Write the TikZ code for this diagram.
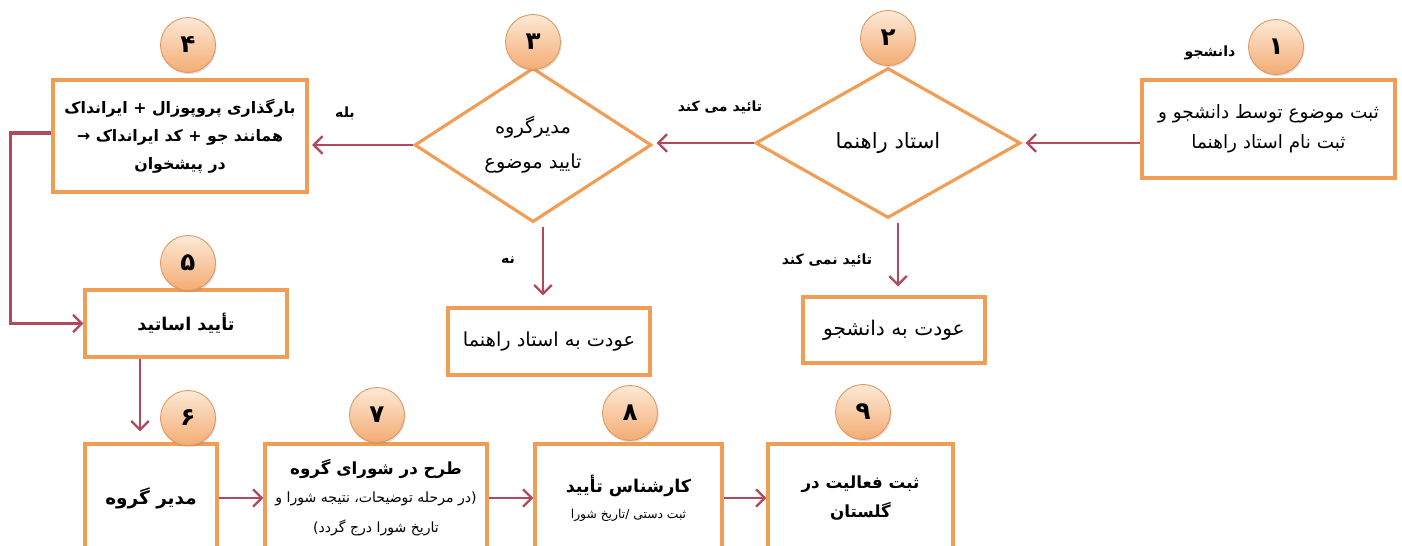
\documentclass[tikz,border=0pt]{standalone}
\usepackage{fontspec}
\setmainfont{DejaVu Sans}
\newfontfamily\fa[Script=Arabic]{DejaVu Sans}
\TeXXeTstate=1
\usetikzlibrary{shapes.geometric,arrows.meta,shadows}
\definecolor{boxc}{RGB}{240,158,85}
\definecolor{arrc}{RGB}{178,72,92}
\definecolor{circin}{RGB}{253,233,215}
\definecolor{circout}{RGB}{243,172,115}
\definecolor{circedge}{RGB}{226,150,95}
\newcommand{\rl}[1]{\beginR #1\endR}
\begin{document}
\begin{tikzpicture}[x=0.02cm,y=-0.02cm,
  box/.style={draw=boxc, line width=1.8pt, fill=white, rectangle, inner sep=0pt, align=center,
    font=\fa\fontsize{11}{17}\selectfont},
  bbox/.style={box, font=\fa\bfseries\fontsize{10.5}{17}\selectfont},
  dia/.style={draw=boxc, line width=1.8pt, fill=white, diamond, inner sep=0pt, align=center,
    font=\fa\fontsize{11}{20}\selectfont},
  num/.style={circle, minimum size=1.1cm, draw=circedge, line width=0.5pt,
    top color=circin, bottom color=circout,
    drop shadow={opacity=0.25, shadow xshift=0.6pt, shadow yshift=-1pt},
    font=\fa\bfseries\fontsize{14}{14}\selectfont},
  lbl/.style={font=\fa\bfseries\fontsize{8}{10}\selectfont, inner sep=1pt},
  arr/.style={draw=arrc, line width=1.3pt, -{Straight Barb[length=5pt,width=10pt,line width=1.3pt]}},
  conn/.style={draw=arrc, line width=2pt, -{Straight Barb[length=5pt,width=10pt,line width=1.3pt]}}
]
\useasboundingbox (0,0) rectangle (1402,546);
\clip (0,0) rectangle (1402,546);
\fill[white] (0,0) rectangle (1402,546);

% boxes
\node[box, font=\fa\fontsize{10.5}{17}\selectfont, minimum width=5.06cm, minimum height=1.96cm] (b1) at (1268.5,129)
  {\rl{ثبت موضوع توسط دانشجو و}\\\rl{ثبت نام استاد راهنما}};
\node[dia, font=\fa\fontsize{12}{20}\selectfont, minimum width=5.3cm, minimum height=3.0cm] (d2) at (888,143) {\rl{استاد راهنما}};
\node[dia, minimum width=4.74cm, minimum height=3.04cm] (d3) at (533,145)
  {\rl{مدیرگروه}\\\rl{تایید موضوع}};
\node[box, font=\fa\bfseries\fontsize{9}{16}\selectfont, minimum width=5.08cm, minimum height=2.24cm] (b4) at (180,136)
  {\rl{بارگذاری پروپوزال + ایرانداک}\\\rl{همانند جو + کد ایرانداک →}\\\rl{در پیشخوان}};
\node[bbox, font=\fa\bfseries\fontsize{10}{17}\selectfont, minimum width=4.04cm, minimum height=1.34cm] (b5) at (186,323.5) {\rl{تأیید اساتید}};
\node[box, font=\fa\fontsize{11}{18}\selectfont, minimum width=4.04cm, minimum height=1.34cm] (r3) at (549,341.5) {\rl{عودت به استاد راهنما}};
\node[box, font=\fa\fontsize{11.5}{18}\selectfont, minimum width=3.64cm, minimum height=1.32cm] (r2) at (894,330) {\rl{عودت به دانشجو}};
\node[bbox, minimum width=2.64cm, minimum height=2.16cm] (b6) at (151,498) {\rl{مدیر گروه}};
\node[box, minimum width=4.44cm, minimum height=2.16cm] (b7) at (376,498)
  {{\bfseries\fontsize{9.5}{15}\selectfont\rl{طرح در شورای گروه}}\\[-1pt]
   {\fontsize{8}{13}\selectfont\rl{(در مرحله توضیحات، نتیجه شورا و}}\\
   {\fontsize{8}{14}\selectfont\rl{تاریخ شورا درج گردد)}}};
\node[box, minimum width=3.74cm, minimum height=2.16cm] (b8) at (628.5,498)
  {{\bfseries\fontsize{10}{15}\selectfont\rl{کارشناس تأیید}}\\[-2pt]
   {\fontsize{7}{10}\selectfont\rl{ثبت دستی /تاریخ شورا}}};
\node[box, font=\fa\bfseries\fontsize{9.5}{17}\selectfont, minimum width=3.7cm, minimum height=2.16cm] (b9) at (860.5,498)
  {\rl{ثبت فعالیت در}\\\rl{گلستان}};

% number circles
\node[num] (c1) at (1276,47) {\rl{۱}};
\node[num] (c2) at (888,38) {\rl{۲}};
\node[num] (c3) at (533,42) {\rl{۳}};
\node[num] (c4) at (188,45) {\rl{۴}};
\node[num] (c5) at (188,263) {\rl{۵}};
\node[num] (c6) at (188,418) {\rl{۶}};
\node[num] (c7) at (377,415) {\rl{۷}};
\node[num] (c8) at (630,413) {\rl{۸}};
\node[num] (c9) at (863,412) {\rl{۹}};

% labels
\node[lbl] (l1) at (1210,53) {\rl{دانشجو}};
\node[lbl] (l2) at (720,107) {\rl{تائید می کند}};
\node[lbl] (l3) at (345,113) {\rl{بله}};
\node[lbl] (l4) at (508,260) {\rl{نه}};
\node[lbl] (l5) at (827,260) {\rl{تائید نمی کند}};

% helper coordinates
\coordinate (x140) at (140,0);
\coordinate (x543) at (543,0);
\coordinate (x898) at (898,0);
\coordinate (y133) at (0,133);

% connectors
\draw[arr, shorten >=2pt] (b1.west |- d2.east) -- (d2.east);
\draw[arr, shorten >=2pt] (d2.west) -- (d2.west -| d3.east);
\draw[arr, shorten >=2pt] (d3.west) -- (d3.west -| b4.east);
\draw[conn] (b4.west |- y133) -- ++(-41,0) |- (b5.west);
\draw[arr, shorten >=0.22cm] (b5.south -| x140) -- (b6.north -| x140);
\draw[arr, shorten <=0.06cm, shorten >=0.22cm] (d3.south -| x543) -- (r3.north -| x543);
\draw[arr, shorten <=0.06cm, shorten >=0.18cm] (d2.south -| x898) -- (r2.north -| x898);
\draw[arr] (b6.east) -- (b7.west);
\draw[arr] (b7.east) -- (b8.west);
\draw[arr] (b8.east) -- (b9.west);
\end{tikzpicture}
\end{document}
